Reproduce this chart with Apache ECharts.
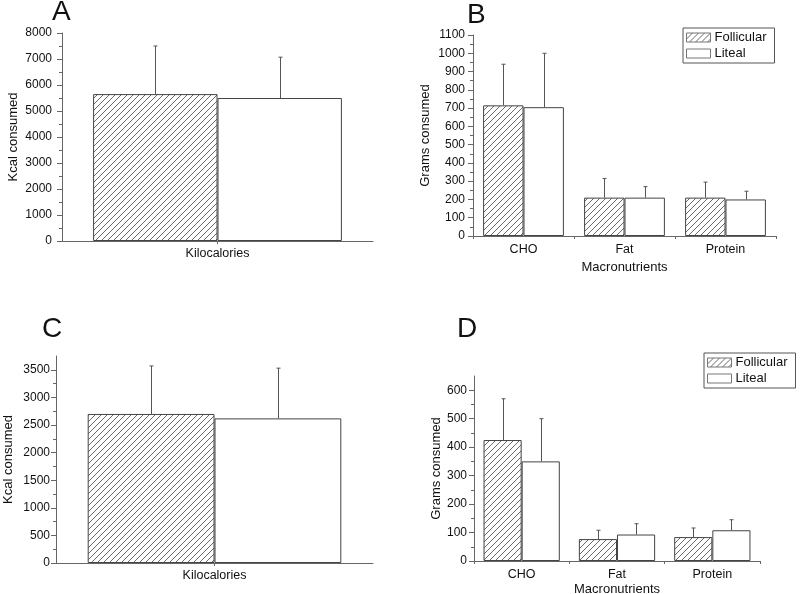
<!DOCTYPE html>
<html>
<head>
<meta charset="utf-8">
<script src="https://cdn.jsdelivr.net/npm/echarts@6/dist/echarts.min.js"></script>
<style>
html,body{margin:0;padding:0;background:#fff;}
#chart{width:800px;height:594px;}
</style>
</head>
<body>
<div id="chart"></div>
<script>
// ---- Data ----
const seriesNames = ['Follicular', 'Liteal'];
// Panel A
const catA = ['Kilocalories'];
const follA = [5650];
const follSdA = [1850];
const litA = [5500];
const litSdA = [1570];
const ticksA = [0, 1000, 2000, 3000, 4000, 5000, 6000, 7000, 8000];
// Panel B
const catB = ['CHO', 'Fat', 'Protein'];
const follB = [715, 210, 210];
const follSdB = [225, 105, 85];
const litB = [705, 210, 200];
const litSdB = [295, 60, 45];
const ticksB = [0, 100, 200, 300, 400, 500, 600, 700, 800, 900, 1000, 1100];
// Panel C
const catC = ['Kilocalories'];
const follC = [2700];
const follSdC = [870];
const litC = [2620];
const litSdC = [910];
const ticksC = [0, 500, 1000, 1500, 2000, 2500, 3000, 3500];
// Panel D
const catD = ['CHO', 'Fat', 'Protein'];
const follD = [425, 77, 84];
const follSdD = [145, 31, 32];
const litD = [350, 93, 108];
const litSdD = [150, 38, 37];
const ticksD = [0, 100, 200, 300, 400, 500, 600];

// ---- Styling ----
const FONT = 'Liberation Sans, Arial, sans-serif';
const AXIS_COLOR = '#666';
const TEXT_COLOR = '#111';

function makeHatch() {
  const s = 6;
  const c = document.createElement('canvas');
  c.width = s; c.height = s;
  const ctx = c.getContext('2d');
  ctx.fillStyle = '#fff';
  ctx.fillRect(0, 0, s, s);
  ctx.strokeStyle = '#444';
  ctx.lineWidth = 0.8;
  ctx.beginPath();
  ctx.moveTo(0, s); ctx.lineTo(s, 0);
  ctx.moveTo(-1, 1); ctx.lineTo(1, -1);
  ctx.moveTo(s - 1, s + 1); ctx.lineTo(s + 1, s - 1);
  ctx.stroke();
  return c;
}
const hatch = { image: makeHatch(), repeat: 'repeat' };

const grids = [
  { left: 62, top: 33, width: 311, height: 208, outerBoundsMode: 'none', containLabel: false },
  { left: 473, top: 35, width: 303, height: 201, outerBoundsMode: 'none', containLabel: false },
  { left: 56, top: 356, width: 317, height: 207, outerBoundsMode: 'none', containLabel: false },
  { left: 474, top: 376, width: 286, height: 185, outerBoundsMode: 'none', containLabel: false }
];

function xAxisFor(idx, cats, name, single, nameGap, margin) {
  return {
    type: 'category', gridIndex: idx, data: cats,
    name: name, nameLocation: 'middle', nameGap: nameGap,
    nameTextStyle: { fontFamily: FONT, fontSize: 13, color: TEXT_COLOR },
    axisLine: { lineStyle: { color: AXIS_COLOR, width: 1 } },
    axisTick: { show: true, length: 3, alignWithLabel: single, lineStyle: { color: AXIS_COLOR } },
    axisLabel: { fontFamily: FONT, fontSize: 12.5, color: TEXT_COLOR, margin: margin },
    splitLine: { show: false }
  };
}
function yAxisFor(idx, max, interval, ticks, name, nameGap, margin) {
  return {
    type: 'value', gridIndex: idx, min: 0, max: max, interval: interval,
    name: name, nameLocation: 'middle', nameGap: nameGap, nameRotate: 90,
    nameTextStyle: { fontFamily: FONT, fontSize: 13, color: TEXT_COLOR },
    axisLine: { show: true, lineStyle: { color: AXIS_COLOR, width: 1 } },
    axisTick: { show: true, length: 5, lineStyle: { color: AXIS_COLOR }, customValues: ticks },
    minorTick: { show: true, splitNumber: 2, length: 3, lineStyle: { color: AXIS_COLOR } },
    axisLabel: { fontFamily: FONT, fontSize: 12, color: TEXT_COLOR, margin: margin,
      customValues: ticks, formatter: function (v) { return String(v); } },
    splitLine: { show: false }
  };
}

function barSeries(idx, name, data, fill) {
  return {
    type: 'bar', name: name, xAxisIndex: idx, yAxisIndex: idx, data: data,
    barGap: '0%', barCategoryGap: '20%',
    itemStyle: { color: fill, borderColor: '#444', borderWidth: 1 },
    emphasis: { disabled: true }, animation: false
  };
}
function errSeries(idx, means, sds, sign) {
  const data = means.map((m, i) => [i, m, m + sds[i]]);
  return {
    type: 'custom', xAxisIndex: idx, yAxisIndex: idx, data: data, z: 5,
    silent: true, animation: false,
    renderItem: function (params, api) {
      const band = api.size([1, 0])[0];
      const off = sign * 0.2 * band;
      const p0 = api.coord([api.value(0), api.value(1)]);
      const p1 = api.coord([api.value(0), api.value(2)]);
      const x = Math.round(p0[0] + off) + 0.5;
      const st = { stroke: '#555', lineWidth: 1 };
      return {
        type: 'group', children: [
          { type: 'line', shape: { x1: x, y1: p0[1], x2: x, y2: p1[1] }, style: st },
          { type: 'line', shape: { x1: x - 2, y1: p1[1], x2: x + 2, y2: p1[1] }, style: st }
        ]
      };
    }
  };
}

function panelLetter(txt, left, top) {
  return { text: txt, left: left, top: top, padding: 0,
    textStyle: { fontFamily: FONT, fontSize: 28, fontWeight: 'normal', color: '#111' } };
}

function legendAt(left, top) {
  return {
    orient: 'vertical', left: left, top: top,
    data: seriesNames,
    borderColor: '#555', borderWidth: 1, borderRadius: 0,
    padding: [3, 8, 3, 3], itemGap: 3, itemWidth: 24, itemHeight: 9,
    icon: 'rect',
    itemStyle: { borderColor: '#777', borderWidth: 1 },
    textStyle: { fontFamily: FONT, fontSize: 13, color: TEXT_COLOR, padding: [0, 0, 0, -1] },
    selectedMode: false
  };
}

const option = {
  backgroundColor: '#fff',
  animation: false,
  title: [
    panelLetter('A', 52, -2),
    panelLetter('B', 467, 1),
    panelLetter('C', 42, 315),
    panelLetter('D', 457, 315)
  ],
  legend: [legendAt(683, 28), legendAt(704, 353)],
  grid: grids,
  xAxis: [
    xAxisFor(0, catA, '', true, 25, 6),
    xAxisFor(1, catB, 'Macronutrients', false, 25, 7),
    xAxisFor(2, catC, '', true, 25, 6),
    xAxisFor(3, catD, 'Macronutrients', false, 22, 7)
  ],
  yAxis: [
    yAxisFor(0, 8000, 1000, ticksA, 'Kcal consumed', 42, 10),
    yAxisFor(1, 1100, 100, ticksB, 'Grams consumed', 41, 8),
    yAxisFor(2, 3750, 500, ticksC, 'Kcal consumed', 41, 6),
    yAxisFor(3, 650, 100, ticksD, 'Grams consumed', 29, 7)
  ],
  series: [
    barSeries(0, seriesNames[0], follA, hatch),
    barSeries(0, seriesNames[1], litA, '#fff'),
    barSeries(1, seriesNames[0], follB, hatch),
    barSeries(1, seriesNames[1], litB, '#fff'),
    barSeries(2, seriesNames[0], follC, hatch),
    barSeries(2, seriesNames[1], litC, '#fff'),
    barSeries(3, seriesNames[0], follD, hatch),
    barSeries(3, seriesNames[1], litD, '#fff'),
    errSeries(0, follA, follSdA, -1),
    errSeries(0, litA, litSdA, 1),
    errSeries(1, follB, follSdB, -1),
    errSeries(1, litB, litSdB, 1),
    errSeries(2, follC, follSdC, -1),
    errSeries(2, litC, litSdC, 1),
    errSeries(3, follD, follSdD, -1),
    errSeries(3, litD, litSdD, 1)
  ]
};

const chart = echarts.init(document.getElementById('chart'), null, { renderer: 'canvas' });
chart.setOption(option);
</script>
</body>
</html>
